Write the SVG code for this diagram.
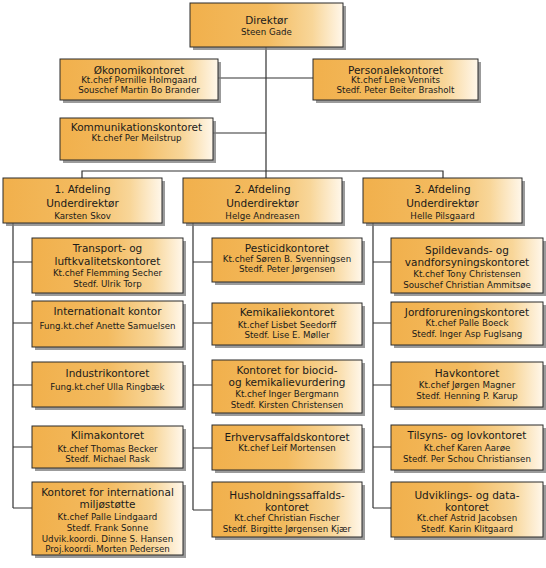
<svg xmlns="http://www.w3.org/2000/svg" width="546" height="568" viewBox="0 0 546 568">
<defs>
<linearGradient id="g" x1="0" y1="0" x2="1" y2="0">
<stop offset="0" stop-color="#F1B04C"/>
<stop offset="0.5" stop-color="#F3BB60"/>
<stop offset="0.8" stop-color="#F8D699"/>
<stop offset="1" stop-color="#FFF7EA"/>
</linearGradient>
</defs>
<style>
.sh{fill:#7a7a7a;opacity:0.75}
.bx{fill:url(#g);stroke:#2a2a2a;stroke-width:1}
text{font-family:"DejaVu Sans","Liberation Sans",sans-serif;fill:#1a1a1a;text-anchor:middle}
.t{font-size:10.5px}
.s{font-size:8.7px}
.c{stroke:#333;stroke-width:1.2;fill:none}
</style>
<rect width="546" height="568" fill="#fff"/>
<g id="connectors">
<path class="c" d="M266 47V178M218 78H313M213 133H266M82 178V171H443V178"/>
<path class="c" d="M13 223V508M13 262H32M13 323H32M13 385H32M13 447H32M13 508H32"/>
<path class="c" d="M193 223V510M193 262H212M193 323H212M193 385H212M193 448H212M193 510H212"/>
<path class="c" d="M373 223V508M373 262H391M373 323H391M373 385H391M373 447H391M373 508H391"/>
</g>
<g id="direktor"><rect class="sh" x="193" y="6" width="153" height="44"/><rect class="bx" x="190" y="3" width="153" height="44"/>
<text class="t" x="266.5" y="24">Direktør</text><text class="s" x="266.5" y="35">Steen Gade</text></g>
<g id="okonomi"><rect class="sh" x="63" y="62" width="158" height="41"/><rect class="bx" x="60" y="59" width="158" height="41"/>
<text class="t" x="139" y="73.5">Økonomikontoret</text><text class="s" x="139" y="83">Kt.chef Pernille Holmgaard</text><text class="s" x="139" y="92.5">Souschef Martin Bo Brander</text></g>
<g id="personale"><rect class="sh" x="316" y="62" width="165" height="41"/><rect class="bx" x="313" y="59" width="165" height="41"/>
<text class="t" x="395.5" y="73.5">Personalekontoret</text><text class="s" x="395.5" y="83">Kt.chef Lene Vennits</text><text class="s" x="395.5" y="92.5">Stedf. Peter Beiter Brasholt</text></g>
<g id="kommunikation"><rect class="sh" x="63" y="121" width="153" height="42"/><rect class="bx" x="60" y="118" width="153" height="42"/>
<text class="t" x="136.5" y="131">Kommunikationskontoret</text><text class="s" x="136.5" y="141">Kt.chef Per Meilstrup</text></g>
<g id="afd1"><rect class="sh" x="6" y="181" width="159" height="45"/><rect class="bx" x="3" y="178" width="159" height="45"/>
<text class="t" x="82.5" y="193">1. Afdeling</text><text class="t" x="82.5" y="207">Underdirektør</text><text class="s" x="82.5" y="219">Karsten Skov</text></g>
<g id="afd2"><rect class="sh" x="186" y="181" width="159" height="45"/><rect class="bx" x="183" y="178" width="159" height="45"/>
<text class="t" x="262.5" y="193">2. Afdeling</text><text class="t" x="262.5" y="207">Underdirektør</text><text class="s" x="262.5" y="219">Helge Andreasen</text></g>
<g id="afd3"><rect class="sh" x="366" y="181" width="159" height="45"/><rect class="bx" x="363" y="178" width="159" height="45"/>
<text class="t" x="442.5" y="193">3. Afdeling</text><text class="t" x="442.5" y="207">Underdirektør</text><text class="s" x="442.5" y="219">Helle Pilsgaard</text></g>
<g id="transport"><rect class="sh" x="35" y="241" width="151" height="55"/><rect class="bx" x="32" y="238" width="151" height="55"/>
<text class="t" x="107.5" y="252">Transport- og</text><text class="t" x="107.5" y="265">luftkvalitetskontoret</text><text class="s" x="107.5" y="276">Kt.chef Flemming Secher</text><text class="s" x="107.5" y="286.5">Stedf. Ulrik Torp</text></g>
<g id="internationalt"><rect class="sh" x="35" y="304" width="151" height="46"/><rect class="bx" x="32" y="301" width="151" height="46"/>
<text class="t" x="107.5" y="315">Internationalt kontor</text><text class="s" x="107.5" y="328.5">Fung.kt.chef Anette Samuelsen</text></g>
<g id="industri"><rect class="sh" x="35" y="365" width="151" height="45"/><rect class="bx" x="32" y="362" width="151" height="45"/>
<text class="t" x="107.5" y="377">Industrikontoret</text><text class="s" x="107.5" y="390">Fung.kt.chef Ulla Ringbæk</text></g>
<g id="klima"><rect class="sh" x="35" y="429" width="151" height="42"/><rect class="bx" x="32" y="426" width="151" height="42"/>
<text class="t" x="107.5" y="439">Klimakontoret</text><text class="s" x="107.5" y="451.5">Kt.chef Thomas Becker</text><text class="s" x="107.5" y="461.5">Stedf. Michael Rask</text></g>
<g id="miljostotte"><rect class="sh" x="35" y="485" width="151" height="73"/><rect class="bx" x="32" y="482" width="151" height="73"/>
<text class="t" x="107.5" y="496">Kontoret for international</text><text class="t" x="107.5" y="508">miljøstøtte</text><text class="s" x="107.5" y="520">Kt.chef Palle Lindgaard</text><text class="s" x="107.5" y="531">Stedf. Frank Sonne</text><text class="s" x="107.5" y="541.5">Udvik.koordi. Dinne S. Hansen</text><text class="s" x="107.5" y="552">Proj.koordi. Morten Pedersen</text></g>
<g id="pesticid"><rect class="sh" x="215" y="241" width="150" height="44"/><rect class="bx" x="212" y="238" width="150" height="44"/>
<text class="t" x="287" y="252">Pesticidkontoret</text><text class="s" x="287" y="262">Kt.chef Søren B. Svenningsen</text><text class="s" x="287" y="272">Stedf. Peter Jørgensen</text></g>
<g id="kemikalie"><rect class="sh" x="215" y="306" width="150" height="42"/><rect class="bx" x="212" y="303" width="150" height="42"/>
<text class="t" x="287" y="316">Kemikaliekontoret</text><text class="s" x="287" y="328">Kt.chef Lisbet Seedorff</text><text class="s" x="287" y="338">Stedf. Lise E. Møller</text></g>
<g id="biocid"><rect class="sh" x="215" y="363" width="150" height="53"/><rect class="bx" x="212" y="360" width="150" height="53"/>
<text class="t" x="287" y="374">Kontoret for biocid-</text><text class="t" x="287" y="386">og kemikalievurdering</text><text class="s" x="287" y="397">Kt.chef Inger Bergmann</text><text class="s" x="287" y="408">Stedf. Kirsten Christensen</text></g>
<g id="erhverv"><rect class="sh" x="215" y="428" width="150" height="45"/><rect class="bx" x="212" y="425" width="150" height="45"/>
<text class="t" x="287" y="441">Erhvervsaffaldskontoret</text><text class="s" x="287" y="450.5">Kt.chef Leif Mortensen</text></g>
<g id="husholdning"><rect class="sh" x="215" y="485" width="150" height="55"/><rect class="bx" x="212" y="482" width="150" height="55"/>
<text class="t" x="287" y="499">Husholdningssaffalds-</text><text class="t" x="287" y="511">kontoret</text><text class="s" x="287" y="520.5">Kt.chef Christian Fischer</text><text class="s" x="287" y="531.5">Stedf. Birgitte Jørgensen Kjær</text></g>
<g id="spildevand"><rect class="sh" x="394" y="241" width="152" height="55"/><rect class="bx" x="391" y="238" width="152" height="55"/>
<text class="t" x="467" y="254">Spildevands- og</text><text class="t" x="467" y="266">vandforsyningskontoret</text><text class="s" x="467" y="277">Kt.chef Tony Christensen</text><text class="s" x="467" y="287.5">Souschef Christian Ammitsøe</text></g>
<g id="jord"><rect class="sh" x="394" y="305" width="152" height="43"/><rect class="bx" x="391" y="302" width="152" height="43"/>
<text class="t" x="467" y="316">Jordforureningskontoret</text><text class="s" x="467" y="325.5">Kt.chef Palle Boeck</text><text class="s" x="467" y="336.5">Stedf. Inger Asp Fuglsang</text></g>
<g id="hav"><rect class="sh" x="394" y="365" width="152" height="45"/><rect class="bx" x="391" y="362" width="152" height="45"/>
<text class="t" x="467" y="377">Havkontoret</text><text class="s" x="467" y="388">Kt.chef Jørgen Magner</text><text class="s" x="467" y="398.5">Stedf. Henning P. Karup</text></g>
<g id="tilsyn"><rect class="sh" x="394" y="428" width="152" height="45"/><rect class="bx" x="391" y="425" width="152" height="45"/>
<text class="t" x="467" y="439">Tilsyns- og lovkontoret</text><text class="s" x="467" y="451">Kt.chef Karen Aarøe</text><text class="s" x="467" y="462">Stedf. Per Schou Christiansen</text></g>
<g id="udvikling"><rect class="sh" x="394" y="485" width="152" height="55"/><rect class="bx" x="391" y="482" width="152" height="55"/>
<text class="t" x="467" y="499">Udviklings- og data-</text><text class="t" x="467" y="511">kontoret</text><text class="s" x="467" y="520.5">Kt.chef Astrid Jacobsen</text><text class="s" x="467" y="531.5">Stedf. Karin Klitgaard</text></g>
</svg>
